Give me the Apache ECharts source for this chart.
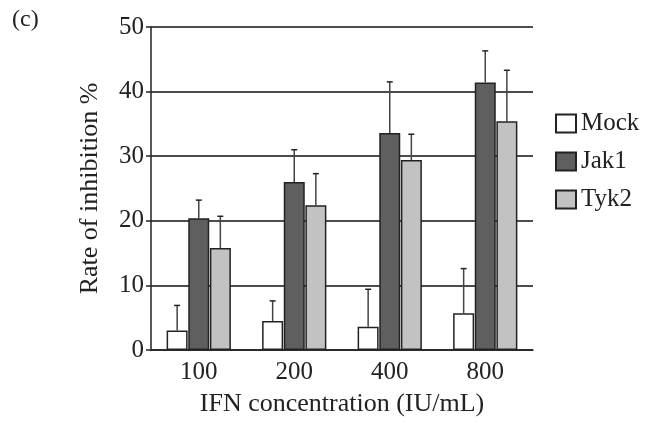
<!DOCTYPE html>
<html>
<head>
<meta charset="utf-8">
<script src="https://cdn.jsdelivr.net/npm/echarts@6/dist/echarts.min.js"></script>
<style>
  html, body { margin: 0; padding: 0; background: #fff; }
  #chart { width: 672px; height: 423px; }
</style>
</head>
<body>
<div id="chart"></div>
<script>
// datos (c)
const categorias = ['100', '200', '400', '800'];
const mock = [3.0, 4.5, 3.6, 5.7];
const mockErr = [3.9, 3.1, 5.8, 6.9];
const jak1 = [20.4, 26.0, 33.6, 41.4];
const jak1Err = [2.8, 5.0, 7.9, 4.9];
const tyk2 = [15.8, 22.4, 29.4, 35.4];
const tyk2Err = [4.9, 4.9, 4.0, 7.9];

const fuente = 'Liberation Serif';

// barras de error solo hacia arriba
function errorSeries(valores, errores, offset) {
    return {
        type: 'custom',
        silent: true,
        z: 5,
        data: valores.map((v, i) => [i, v, v + errores[i]]),
        renderItem: function (params, api) {
            const base = api.coord([api.value(0), api.value(1)]);
            const top = api.coord([api.value(0), api.value(2)]);
            const x = base[0] + offset;
            return {
                type: 'group',
                children: [
                    { type: 'line', shape: { x1: x, y1: base[1], x2: x, y2: top[1] },
                      style: { stroke: '#444', lineWidth: 1.5 } },
                    { type: 'line', shape: { x1: x - 3, y1: top[1], x2: x + 3, y2: top[1] },
                      style: { stroke: '#222', lineWidth: 1.5 } }
                ]
            };
        }
    };
}

const chart = echarts.init(document.getElementById('chart'));

const option = {
    animation: false,
    backgroundColor: '#fff',
    graphic: [{
        type: 'text', left: 12, top: 8,
        style: { text: '(c)', font: '24px "Liberation Serif"', fill: '#222' }
    }],
    legend: {
        orient: 'vertical',
        left: 550,
        top: 106,
        itemWidth: 20,
        itemHeight: 18,
        itemGap: 13,
        icon: 'rect',
        data: ['Mock', 'Jak1', 'Tyk2'],
        textStyle: { fontFamily: fuente, fontSize: 25, color: '#222' }
    },
    grid: { left: 151, right: 139, top: 27, bottom: 73 },
    xAxis: {
        type: 'category',
        data: categorias,
        name: 'IFN concentration (IU/mL)',
        nameLocation: 'middle',
        nameGap: 41,
        nameTextStyle: { fontFamily: fuente, fontSize: 26, color: '#222' },
        axisLine: { lineStyle: { color: '#222', width: 1.5 } },
        axisTick: { inside: true, length: 6, lineStyle: { color: '#222', width: 1.5 } },
        axisLabel: { fontFamily: fuente, fontSize: 25, color: '#222', margin: 10 }
    },
    yAxis: {
        type: 'value',
        min: 0,
        max: 50,
        interval: 10,
        name: 'Rate of inhibition %',
        nameLocation: 'middle',
        nameGap: 48,
        nameTextStyle: { fontFamily: fuente, fontSize: 26, color: '#222' },
        axisLine: { show: true, lineStyle: { color: '#222', width: 1.5 } },
        axisTick: { show: true, length: 5, lineStyle: { color: '#222', width: 1.5 } },
        axisLabel: { fontFamily: fuente, fontSize: 25, color: '#222', margin: 7 },
        splitLine: { show: true, lineStyle: { color: '#111', width: 1.5 } }
    },
    series: [
        {
            name: 'Mock', type: 'bar', data: mock, barWidth: 21, barGap: '3%',
            itemStyle: { color: '#ffffff', borderColor: '#222', borderWidth: 1.5 }
        },
        {
            name: 'Jak1', type: 'bar', data: jak1, barWidth: 21, barGap: '3%',
            itemStyle: { color: '#5f5f5f', borderColor: '#222', borderWidth: 1.5 }
        },
        {
            name: 'Tyk2', type: 'bar', data: tyk2, barWidth: 21, barGap: '3%',
            itemStyle: { color: '#c2c2c2', borderColor: '#222', borderWidth: 1.5 }
        },
        errorSeries(mock, mockErr, -21.6),
        errorSeries(jak1, jak1Err, 0),
        errorSeries(tyk2, tyk2Err, 21.6)
    ]
};

chart.setOption(option);
</script>
</body>
</html>
